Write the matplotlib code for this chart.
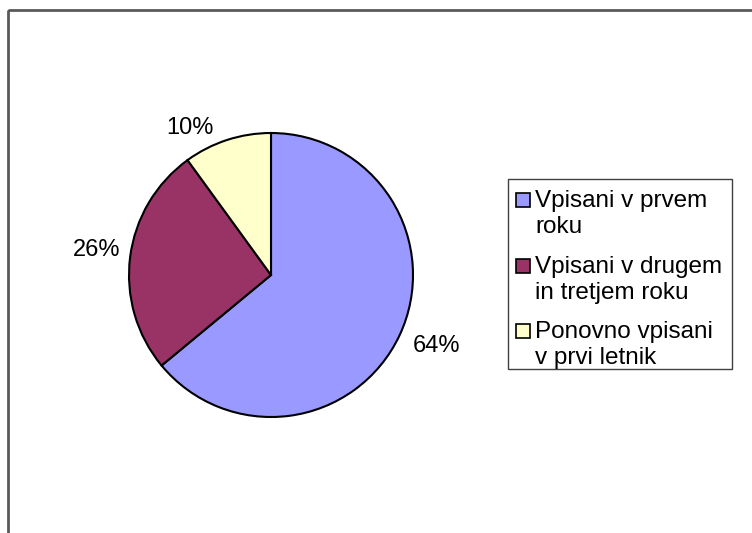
import matplotlib.pyplot as plt
from matplotlib.patches import Rectangle
import numpy as np

plt.rcParams['font.family'] = ['Liberation Sans', 'DejaVu Sans']

# shares of enrolled students
categories = ['Vpisani v prvem\nroku',
              'Vpisani v drugem\nin tretjem roku',
              'Ponovno vpisani\nv prvi letnik']
values = [64, 26, 10]
colors = ['#9999FF', '#993366', '#FFFFCC']

# label placement: distance from centre (in radii) and angular nudge (deg)
label_dist = [1.27, 1.24, 1.18]
label_turn = [2, -1, 11]

W, H = 752, 533
fig = plt.figure(figsize=(W / 100, H / 100), dpi=100)
ax = fig.add_axes([0, 0, 1, 1])

cx, cy, r = 271, 275, 142
# y axis is flipped below, so start at -90 and run counterclockwise in data
# coordinates, which shows up as clockwise from 12 o'clock
wedges, _ = ax.pie(values, colors=colors, startangle=-90, counterclock=True,
                   center=(cx, cy), radius=r, frame=True,
                   wedgeprops=dict(edgecolor='black', linewidth=1.5))

for w, v, d, t in zip(wedges, values, label_dist, label_turn):
    ang = np.deg2rad((w.theta1 + w.theta2) / 2 - t)
    ax.text(cx + d * r * np.cos(ang), cy + d * r * np.sin(ang), '%d%%' % v,
            ha='center', va='center', fontsize=17)

ax.set_xlim(0, W)
ax.set_ylim(H, 0)
ax.set_aspect('auto')
ax.axis('off')

# outer chart frame
ax.add_patch(Rectangle((8, 10), W + 20, H + 20, fill=False,
                       edgecolor='#5a5a5a', linewidth=2))

# legend box drawn by hand so each swatch sits at its first text line
ax.add_patch(Rectangle((508, 179), 224, 190, fill=False,
                       edgecolor='#404040', linewidth=1))
y0 = 207
for lab, col in zip(categories, colors):
    ax.add_patch(Rectangle((516, y0 - 14), 14, 14, facecolor=col,
                           edgecolor='black', linewidth=1.2))
    ax.text(535, y0, lab.split('\n')[0], ha='left', va='baseline',
            fontsize=17.5)
    ax.text(535, y0 + 26, lab.split('\n')[1], ha='left', va='baseline',
            fontsize=17.5)
    y0 += 65.5

fig.savefig('out.png', dpi=100)
